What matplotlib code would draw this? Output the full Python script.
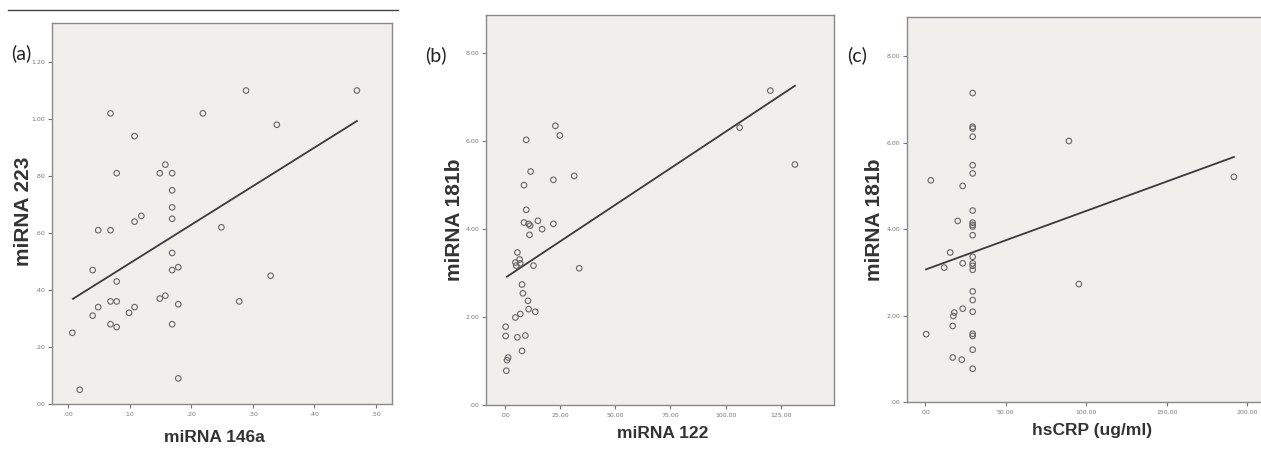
import numpy as np
import matplotlib
matplotlib.use("Agg")
import matplotlib.pyplot as plt
from matplotlib.lines import Line2D
from matplotlib import font_manager

# ---------------- data ----------------
# Panel (a): miRNA 146a vs miRNA 223
a_x = [0.007, 0.019, 0.040, 0.040, 0.049, 0.049, 0.069, 0.069, 0.069, 0.069,
       0.079, 0.079, 0.079, 0.079, 0.099, 0.108, 0.108, 0.108, 0.119, 0.149,
       0.149, 0.158, 0.158, 0.169, 0.169, 0.169, 0.169, 0.169, 0.169, 0.169,
       0.179, 0.179, 0.179, 0.219, 0.249, 0.278, 0.289, 0.329, 0.339, 0.469]
a_y = [0.25, 0.05, 0.31, 0.47, 0.34, 0.61, 1.02, 0.61, 0.36, 0.28,
       0.81, 0.43, 0.36, 0.27, 0.32, 0.94, 0.64, 0.34, 0.66, 0.81,
       0.37, 0.84, 0.38, 0.81, 0.75, 0.69, 0.65, 0.53, 0.47, 0.28,
       0.48, 0.35, 0.09, 1.02, 0.62, 0.36, 1.10, 0.45, 0.98, 1.10]
a_fit_x = [0.008, 0.469]
a_fit_y = [0.369, 0.993]

# Panel (b): miRNA 122 vs miRNA 181b
b_x = [0.7, 1.0, 1.5, 0.4, 0.4, 5.7, 4.8, 7.0, 7.8, 9.3,
       7.8, 8.2, 10.5, 10.8, 13.8, 5.7, 4.8, 5.2, 6.7, 7.0,
       13.0, 8.7, 8.7, 9.7, 9.7, 10.8, 11.5, 11.2, 11.7, 15.0,
       16.9, 22.0, 22.0, 22.9, 24.9, 31.4, 33.7, 106.3, 120.2, 131.3]
b_y = [0.78, 1.02, 1.08, 1.57, 1.78, 1.54, 1.99, 2.07, 1.23, 1.58,
       2.74, 2.54, 2.37, 2.18, 2.12, 3.47, 3.24, 3.17, 3.31, 3.22,
       3.17, 5.00, 4.15, 4.44, 6.03, 4.12, 4.08, 3.87, 5.31, 4.19,
       4.00, 5.12, 4.12, 6.35, 6.13, 5.21, 3.11, 6.31, 7.15, 5.47]
b_fit_x = [1.0, 131.3]
b_fit_y = [2.92, 7.26]

# Panel (c): hsCRP vs miRNA 181b
c_x = [0.6, 3.5, 11.8, 15.5, 17.1, 17.5, 18.1, 17.1, 20.2, 22.7,
       23.3, 23.3, 23.3,
       29.5, 29.5, 29.5, 29.5, 29.5, 29.5, 29.5, 29.5, 29.5, 29.5, 29.5,
       29.5, 29.5, 29.5, 29.5, 29.5, 29.5, 29.5, 29.5, 29.5, 29.5, 29.5,
       89.3, 95.5, 191.8]
c_y = [1.57, 5.13, 3.11, 3.46, 1.76, 1.99, 2.07, 1.03, 4.19, 0.98,
       5.00, 3.21, 2.16,
       7.15, 6.37, 6.33, 6.14, 5.48, 5.29, 4.43, 4.15, 4.10, 4.06, 3.86,
       3.36, 3.21, 3.15, 3.06, 2.56, 2.36, 2.09, 1.58, 1.53, 1.21, 0.77,
       6.04, 2.73, 5.21]
c_fit_x = [0.6, 191.8]
c_fit_y = [3.07, 5.67]

a_xticks = [0.0, 0.1, 0.2, 0.3, 0.4, 0.5]
a_xticklabels = [".00", ".10", ".20", ".30", ".40", ".50"]
a_yticks = [0.0, 0.2, 0.4, 0.6, 0.8, 1.0, 1.2]
a_yticklabels = [".00", ".20", ".40", ".60", ".80", "1.00", "1.20"]
b_xticks = [0, 25, 50, 75, 100, 125]
b_xticklabels = [".00", "25.00", "50.00", "75.00", "100.00", "125.00"]
c_xticks = [0, 50, 100, 150, 200]
c_xticklabels = [".00", "50.00", "100.00", "150.00", "200.00"]
bc_yticks = [0, 2, 4, 6, 8]
bc_yticklabels = [".00", "2.00", "4.00", "6.00", "8.00"]

# ---------------- figure ----------------
installed = {f.name for f in font_manager.fontManager.ttflist}
XFONT = "Liberation Sans Narrow" if "Liberation Sans Narrow" in installed else "Liberation Sans"
XSIZE = 15 if XFONT == "Liberation Sans Narrow" else 12.5

W, H = 1261, 450
fig = plt.figure(figsize=(W / 100, H / 100), dpi=100)
fig.patch.set_facecolor("white")


def add_axes_px(left, right, top, bottom):
    return fig.add_axes([left / W, 1 - bottom / H, (right - left) / W, (bottom - top) / H])


panels = [
    dict(box=(52, 392, 23, 404), x=a_x, y=a_y, fx=a_fit_x, fy=a_fit_y,
         xlim=(-0.026, 0.526), ylim=(0, 1.337),
         xt=a_xticks, xtl=a_xticklabels, yt=a_yticks, ytl=a_yticklabels,
         xl="miRNA 146a", yl="miRNA 223", tag="(a)", tagpos=(21, 53),
         xlpos=(214, 437), ylpos=(24, 211)),
    dict(box=(486, 834, 15, 405), x=b_x, y=b_y, fx=b_fit_x, fy=b_fit_y,
         xlim=(-8.5, 149.0), ylim=(0, 8.87),
         xt=b_xticks, xtl=b_xticklabels, yt=bc_yticks, ytl=bc_yticklabels,
         xl="miRNA 122", yl="miRNA 181b", tag="(b)", tagpos=(436, 55),
         xlpos=(663, 434), ylpos=(454, 220)),
    dict(box=(907, 1268, 17, 402), x=c_x, y=c_y, fx=c_fit_x, fy=c_fit_y,
         xlim=(-11.3, 213.0), ylim=(0, 8.91),
         xt=c_xticks, xtl=c_xticklabels, yt=bc_yticks, ytl=bc_yticklabels,
         xl="hsCRP (ug/ml)", yl="miRNA 181b", tag="(c)", tagpos=(857, 55),
         xlpos=(1092, 431), ylpos=(875, 220)),
]

for p in panels:
    l, r, t, b = p["box"]
    ax = add_axes_px(l, r, t, b)
    ax.set_facecolor("#f1efec")
    ax.scatter(p["x"], p["y"], s=16, facecolors="none", edgecolors="#666666",
               linewidths=0.8, zorder=3)
    ax.plot(p["fx"], p["fy"], color="#3a3a3a", lw=1.3, zorder=2)
    ax.set_xlim(*p["xlim"])
    ax.set_ylim(*p["ylim"])
    ax.set_xticks(p["xt"])
    ax.set_xticklabels(p["xtl"])
    ax.set_yticks(p["yt"])
    ax.set_yticklabels(p["ytl"])
    ax.tick_params(direction="out", length=3, width=0.8, colors="#777777",
                   labelsize=4.5, pad=2)
    ax.tick_params(axis="x", pad=3)
    for s in ax.spines.values():
        s.set_color("#8a8a8a")
        s.set_linewidth(1.0)
    ax.set_xlabel(p["xl"], fontsize=XSIZE, fontweight="bold", color="#333333",
                  family=XFONT)
    ax.set_ylabel(p["yl"], fontsize=15, fontweight="bold", color="#333333",
                  family="Liberation Sans")
    xlx, xly = p["xlpos"]
    ax.xaxis.set_label_coords((xlx - l) / (r - l), (b - xly) / (b - t))
    ax.xaxis.label.set_va("center")
    ylx, yly = p["ylpos"]
    ax.yaxis.set_label_coords((ylx - l) / (r - l), (b - yly) / (b - t))
    ax.yaxis.label.set_va("center")
    tx, ty = p["tagpos"]
    fig.text(tx / W, 1 - ty / H, p["tag"], fontsize=14, color="#222222",
             family="Lato", ha="center", va="center")

# top rule above panel (a)
fig.add_artist(Line2D([8 / W, 398 / W], [1 - 9.5 / H, 1 - 9.5 / H],
                      color="#444444", lw=1.0))

fig.savefig("out.png", dpi=100, facecolor="white")
